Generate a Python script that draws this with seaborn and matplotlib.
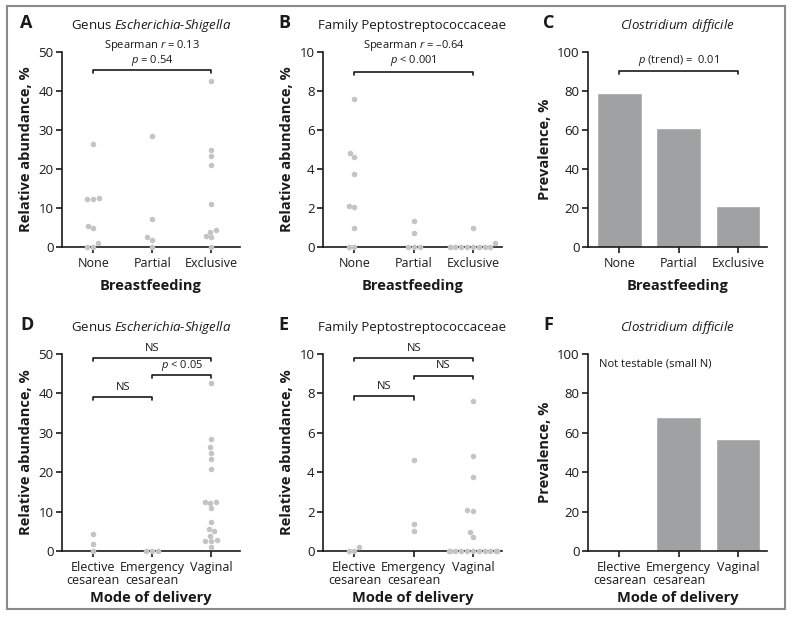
import matplotlib
matplotlib.use("Agg")
import matplotlib.pyplot as plt
import seaborn as sns
import pandas as pd
from matplotlib.patches import Rectangle

# ---------------- data ----------------
bf_cats = ["None", "Partial", "Exclusive"]
mode_cats = ["Elective\ncesarean", "Emergency\ncesarean", "Vaginal"]

esch_none = [26.3, 12.5, 12.3, 12.3, 5.5, 5.0, 0.9, 0.1, 0.0]
esch_partial = [28.4, 7.3, 2.5, 1.9, 0.0]
esch_excl = [42.6, 24.9, 23.4, 20.9, 10.9, 4.3, 3.9, 2.9, 2.5, 0.0]

pept_none = [7.6, 4.8, 4.6, 3.75, 2.1, 2.05, 1.0, 0.0, 0.0]
pept_partial = [1.35, 0.7, 0.0, 0.0, 0.0]
pept_excl = [0.95, 0.2, 0, 0, 0, 0, 0, 0, 0, 0]

esch_elective = [4.3, 1.9, 0.0]
esch_emergency = [0.0, 0.0, 0.0]
esch_vaginal = [42.6, 28.4, 26.3, 24.9, 23.4, 20.9, 12.5, 12.3, 12.5, 10.9,
                7.3, 5.5, 5.0, 3.9, 2.9, 2.6, 2.5, 0.9]

pept_elective = [0.2, 0.0, 0.0]
pept_emergency = [4.6, 1.35, 1.0]
pept_vaginal = [7.6, 4.8, 3.75, 2.1, 2.05, 0.95, 0.7] + [0.0] * 11

cdiff_bf = [79, 61, 21]
cdiff_mode = [0, 68, 57]

# ---------------- style ----------------
sns.set_theme(style="ticks")
plt.rcParams["font.family"] = ["Open Sans", "DejaVu Sans"]
plt.rcParams["mathtext.fontset"] = "custom"
plt.rcParams["mathtext.rm"] = "Open Sans"
plt.rcParams["mathtext.it"] = "Open Sans:italic"
plt.rcParams["axes.linewidth"] = 1.2
plt.rcParams["xtick.major.width"] = 1.2
plt.rcParams["ytick.major.width"] = 1.2
plt.rcParams["xtick.major.size"] = 4
plt.rcParams["ytick.major.size"] = 4

PT_COLOR = "#c4c4c4"
BAR_COLOR = "#a0a1a3"
TXT = "#1a1a1a"

fig = plt.figure(figsize=(7.91, 6.25), dpi=100)

W, H = 791, 625
def ax_at(l, t, r, b):
    return fig.add_axes([l / W, 1 - b / H, (r - l) / W, (b - t) / H])

cols = [(62, 240), (323, 502), (588, 767)]
rows = [(52, 247), (354, 551)]

axes = [[ax_at(c[0], r[0], c[1], r[1]) for c in cols] for r in rows]

def long_df(cats, groups):
    rows_ = []
    for c, g in zip(cats, groups):
        for v in g:
            rows_.append((c, v))
    return pd.DataFrame(rows_, columns=["group", "value"])

def style_ax(ax, ymax, step, xlabel, ylabel, cats, xpad):
    ax.set_ylim(0, ymax)
    ax.set_yticks(range(0, ymax + 1, step))
    ax.set_xlim(-0.53, 2.49)
    ax.set_xticks(range(3))
    ax.set_xticklabels(cats, fontsize=9, color=TXT, linespacing=1.0)
    ax.tick_params(axis="y", labelsize=9.5, colors=TXT, pad=2)
    ax.tick_params(axis="x", pad=3)
    ax.set_xlabel(xlabel, fontsize=10.5, fontweight="bold", color=TXT, labelpad=xpad)
    ax.set_ylabel(ylabel, fontsize=10.5, fontweight="bold", color=TXT, labelpad=4)
    sns.despine(ax=ax)
    for s in ax.spines.values():
        s.set_color(TXT)
    ax.tick_params(colors=TXT)

def swarm(ax, cats, groups):
    df = long_df(cats, groups)
    sns.swarmplot(data=df, x="group", y="value", order=cats, color=PT_COLOR,
                  size=4.0, ax=ax, zorder=5, clip_on=False)

def bars(ax, cats, vals):
    df = pd.DataFrame({"group": cats, "value": vals})
    sns.barplot(data=df, x="group", y="value", order=cats, color=BAR_COLOR,
                width=0.75, ax=ax, saturation=1)

def bracket(ax, x1, x2, y, tick):
    ax.plot([x1, x1, x2, x2], [y - tick, y, y, y - tick], color=TXT, lw=1.2,
            clip_on=False, zorder=6)

# Row 1
swarm(axes[0][0], bf_cats, [esch_none, esch_partial, esch_excl])
style_ax(axes[0][0], 50, 10, "Breastfeeding", "Relative abundance, %", bf_cats, 7)
swarm(axes[0][1], bf_cats, [pept_none, pept_partial, pept_excl])
style_ax(axes[0][1], 10, 2, "Breastfeeding", "Relative abundance, %", bf_cats, 7)
bars(axes[0][2], bf_cats, cdiff_bf)
style_ax(axes[0][2], 100, 20, "Breastfeeding", "Prevalence, %", bf_cats, 7)

# Row 2
swarm(axes[1][0], mode_cats, [esch_elective, esch_emergency, esch_vaginal])
style_ax(axes[1][0], 50, 10, "Mode of delivery", "Relative abundance, %", mode_cats, 3)
swarm(axes[1][1], mode_cats, [pept_elective, pept_emergency, pept_vaginal])
style_ax(axes[1][1], 10, 2, "Mode of delivery", "Relative abundance, %", mode_cats, 3)
bars(axes[1][2], mode_cats, cdiff_mode)
style_ax(axes[1][2], 100, 20, "Mode of delivery", "Prevalence, %", mode_cats, 3)

# Titles
titles = [["Genus $\\mathit{Escherichia}$-$\\mathit{Shigella}$", "Family Peptostreptococcaceae",
           "$\\mathit{Clostridium\\ difficile}$"],
          ["Genus $\\mathit{Escherichia}$-$\\mathit{Shigella}$", "Family Peptostreptococcaceae",
           "$\\mathit{Clostridium\\ difficile}$"]]
letters = [["A", "B", "C"], ["D", "E", "F"]]
letter_x = [20, 278, 543]
for ri, r in enumerate(rows):
    for ci, c in enumerate(cols):
        ty = r[0] - 27
        fig.text(((c[0] + c[1]) / 2) / W, 1 - ty / H, titles[ri][ci], fontsize=9.5,
                 ha="center", va="center", color=TXT)
        fig.text(letter_x[ci] / W, 1 - (ty - 2) / H, letters[ri][ci], fontsize=13,
                 fontweight="bold", ha="left", va="center", color=TXT)

FS = 8
# Annotations
a = axes[0][0]
bracket(a, 0, 2, 45.5, 0.9)
a.text(1, 51.7, "Spearman $r$ = 0.13", ha="center", va="center", fontsize=FS, color=TXT)
a.text(1, 47.9, "$p$ = 0.54", ha="center", va="center", fontsize=FS, color=TXT)

a = axes[0][1]
bracket(a, 0, 2, 9.0, 0.18)
a.text(1, 10.34, "Spearman $r$ = \u20130.64", ha="center", va="center", fontsize=FS, color=TXT)
a.text(1, 9.58, "$p$ < 0.001", ha="center", va="center", fontsize=FS, color=TXT)

a = axes[0][2]
bracket(a, 0, 2, 90.5, 1.8)
a.text(1, 95.5, "$p$ (trend) =  0.01", ha="center", va="center", fontsize=FS, color=TXT)

a = axes[1][0]
bracket(a, 0, 2, 49.0, 0.9)
a.text(1, 51.5, "NS", ha="center", va="center", fontsize=FS, color=TXT)
bracket(a, 1, 2, 44.7, 0.9)
a.text(1.5, 47.1, "$p$ < 0.05", ha="center", va="center", fontsize=FS, color=TXT)
bracket(a, 0, 1, 39.2, 0.9)
a.text(0.5, 41.6, "NS", ha="center", va="center", fontsize=FS, color=TXT)

a = axes[1][1]
bracket(a, 0, 2, 9.8, 0.18)
a.text(1, 10.3, "NS", ha="center", va="center", fontsize=FS, color=TXT)
bracket(a, 1, 2, 8.9, 0.18)
a.text(1.5, 9.4, "NS", ha="center", va="center", fontsize=FS, color=TXT)
bracket(a, 0, 1, 7.85, 0.18)
a.text(0.5, 8.35, "NS", ha="center", va="center", fontsize=FS, color=TXT)

a = axes[1][2]
a.text(-0.35, 95, "Not testable (small N)", ha="left", va="center", fontsize=FS, color=TXT)

# Outer border
fig.patches.append(Rectangle((7 / W, 1 - 609 / H), (785 - 7) / W, (609 - 6) / H,
                             transform=fig.transFigure, fill=False,
                             edgecolor="#8a8a8a", lw=1.5))

fig.savefig("out.png", dpi=100)
